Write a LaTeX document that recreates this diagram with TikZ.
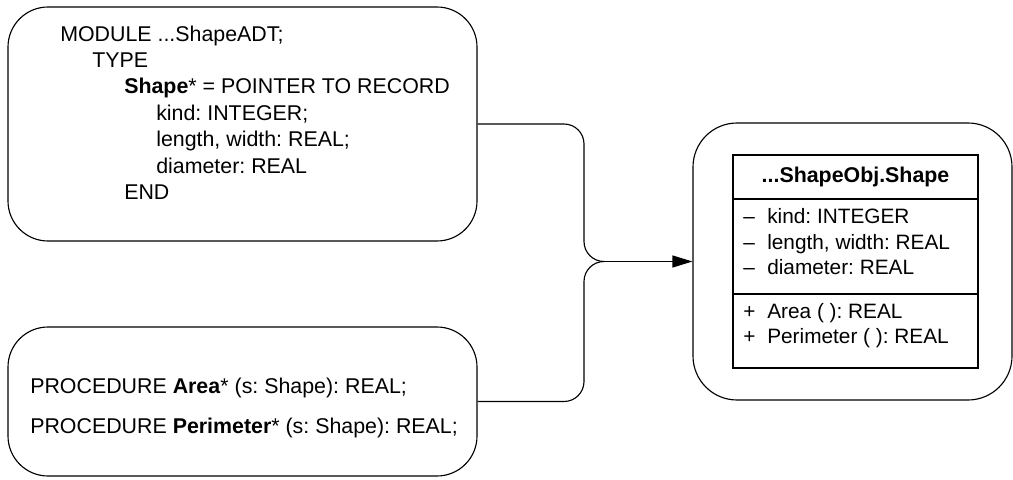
\documentclass[tikz,border=0pt]{standalone}
\usepackage{fontspec}
\setmainfont{Liberation Sans}
\usetikzlibrary{arrows.meta}
\frenchspacing

\newcommand{\umlvis}[1]{\makebox[0.6cm][l]{#1}}

\tikzset{
	modbox/.style={draw, line width=0.8pt, rounded corners=1cm},
	code/.style={align=left, anchor=west, inner sep=0pt, font=\fontsize{15.2}{18.8}\selectfont},
}

\begin{document}
\begin{tikzpicture}
	\useasboundingbox (0,0) rectangle (25.325,11.975);
	% module with the record type
	\node [modbox, minimum width=11.725cm, minimum height=5.85cm] (adt) at (6.0625,8.875) {};
	\node [code] (adttext) at (1.5,9.16) {MODULE ...ShapeADT;\\
		\hspace*{0.8cm}TYPE\\
		\hspace*{1.6cm}\textbf{Shape}* = POINTER TO RECORD\\
		\hspace*{2.4cm}kind: INTEGER;\\
		\hspace*{2.4cm}length, width: REAL;\\
		\hspace*{2.4cm}diameter: REAL\\
		\hspace*{1.6cm}END};
	% exported procedures
	\node [modbox, minimum width=11.725cm, minimum height=3.725cm] (proc) at (6.0625,1.9375) {};
	\node [code] (proctext) at (0.75,1.775) {PROCEDURE \textbf{Area}* (s: Shape): REAL;\\[9.6pt]
		PROCEDURE \textbf{Perimeter}* (s: Shape): REAL;};
	% the class that replaces both
	\node [modbox, rounded corners=1.1cm, minimum width=7.975cm, minimum height=6.925cm] (obj) at (21.3125,5.4375) {};
	\draw [line width=0.8pt] (18.325,2.775) rectangle (24.45,8.1);
	\draw [line width=0.8pt] (18.325,7.0) -- (24.45,7.0);
	\draw [line width=0.8pt] (18.325,4.625) -- (24.45,4.625);
	\node [code, anchor=center] (objname) at (21.3875,7.55) {\textbf{...ShapeObj.Shape}};
	\node [code, font=\fontsize{14.8}{18.1}\selectfont] (objattr) at (18.575,5.925) {\umlvis{--}kind: INTEGER\\
		\umlvis{--}length, width: REAL\\
		\umlvis{--}diameter: REAL};
	\node [code, font=\fontsize{14.8}{18.1}\selectfont] (objops) at (18.575,3.84) {\umlvis{+}Area ( ): REAL\\
		\umlvis{+}Perimeter ( ): REAL};
	% brace joining the two modules
	\coordinate (spine) at (14.6,5.4375);
	\coordinate (join) at (15.1,5.4375);
	\draw [line width=0.8pt, rounded corners=0.5cm] (adt.east) -| (spine) -- (join);
	\draw [line width=0.8pt, rounded corners=0.5cm] (proc.east) -| (spine) -- (join);
	\draw [line width=0.8pt, -{Triangle[length=5mm,width=3mm]}] (join) -- (obj.west);
\end{tikzpicture}
\end{document}
